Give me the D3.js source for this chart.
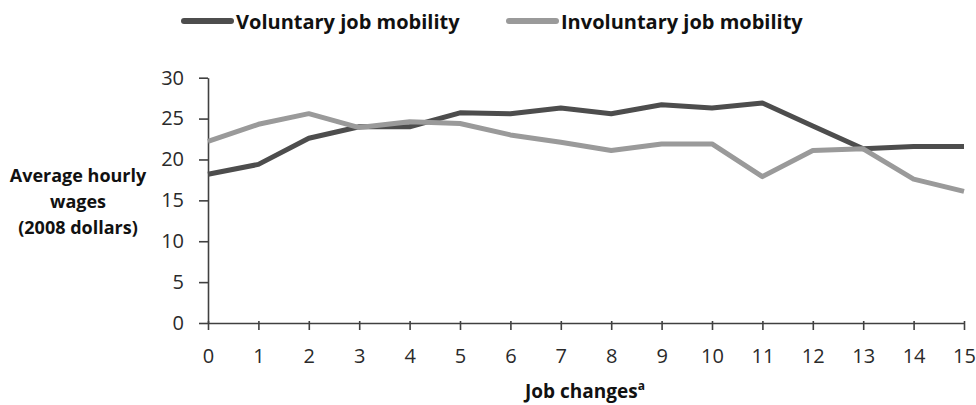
<!DOCTYPE html>
<html><head><meta charset="utf-8">
<script src="https://cdn.jsdelivr.net/npm/d3@7"></script>
<style>body{margin:0;background:#fff}svg{display:block}</style>
</head><body>
<svg id="c" width="976" height="405"></svg>
<script>
const jobChanges = [0,1,2,3,4,5,6,7,8,9,10,11,12,13,14,15];
const voluntary = [18.2,19.4,22.6,24.0,24.0,25.7,25.6,26.3,25.6,26.7,26.3,26.9,24.1,21.3,21.6,21.6];
const involuntary = [22.2,24.3,25.6,23.9,24.6,24.4,23.0,22.1,21.1,21.9,21.9,17.9,21.1,21.3,17.6,16.1];
const yTicks = [0,5,10,15,20,25,30];
const seriesNames = ["Voluntary job mobility","Involuntary job mobility"];
const colors = ["#4d4d4d","#9a9a9a"];

const svg = d3.select("#c");
const x = d3.scaleLinear().domain([0,15]).range([208,964]);
const y = d3.scaleLinear().domain([0,30]).range([323,77.7]);
const tickFont = "'Open Sans', Lato, sans-serif";
const boldFont = "'Open Sans', Lato, sans-serif";

const xAxis = svg.append("g").attr("transform","translate(0,323)")
  .call(d3.axisBottom(x).tickValues(jobChanges).tickFormat(d3.format("d")).tickSize(7).tickSizeOuter(0).tickPadding(19));
const yAxis = svg.append("g").attr("transform","translate(208,0)")
  .call(d3.axisLeft(y).tickValues(yTicks).tickSize(9).tickSizeOuter(0).tickPadding(15));
[xAxis,yAxis].forEach(g=>{
  g.selectAll("path,line").attr("stroke","#404040").attr("stroke-width",1.6);
  g.selectAll("text").attr("font-family",tickFont).attr("font-size",20).attr("fill","#2a2a2a");
});
xAxis.selectAll(".tick line").attr("y1",-2);

const line = d3.line().x((d,i)=>x(jobChanges[i])).y(d=>y(d));
[voluntary,involuntary].forEach((s,k)=>{
  svg.append("path").datum(s).attr("d",line).attr("fill","none")
    .attr("stroke",colors[k]).attr("stroke-width",5).attr("stroke-linejoin","round");
});

// legend
const legendX = [182,507];
seriesNames.forEach((n,k)=>{
  svg.append("line").attr("x1",legendX[k]+2).attr("x2",legendX[k]+49).attr("y1",21).attr("y2",21)
    .attr("stroke",colors[k]).attr("stroke-width",6).attr("stroke-linecap","round");
  svg.append("text").attr("x",legendX[k]+54).attr("y",29).text(n)
    .attr("font-family",boldFont).attr("font-weight","bold").attr("font-size",20).attr("fill","#111");
});

// y label
["Average hourly","wages","(2008 dollars)"].forEach((t,i)=>{
  svg.append("text").attr("x",78).attr("y",182+i*26).attr("text-anchor","middle").text(t)
    .attr("font-family",boldFont).attr("font-weight","bold").attr("font-size",18).attr("fill","#111");
});

// x label
const xl = svg.append("text").attr("x",585).attr("y",398).attr("text-anchor","middle")
  .attr("font-family",boldFont).attr("font-weight","bold").attr("font-size",19).attr("fill","#111");
xl.append("tspan").text("Job changes");
xl.append("tspan").text("a").attr("font-size",12).attr("dy",-8);
</script>
</body></html>
